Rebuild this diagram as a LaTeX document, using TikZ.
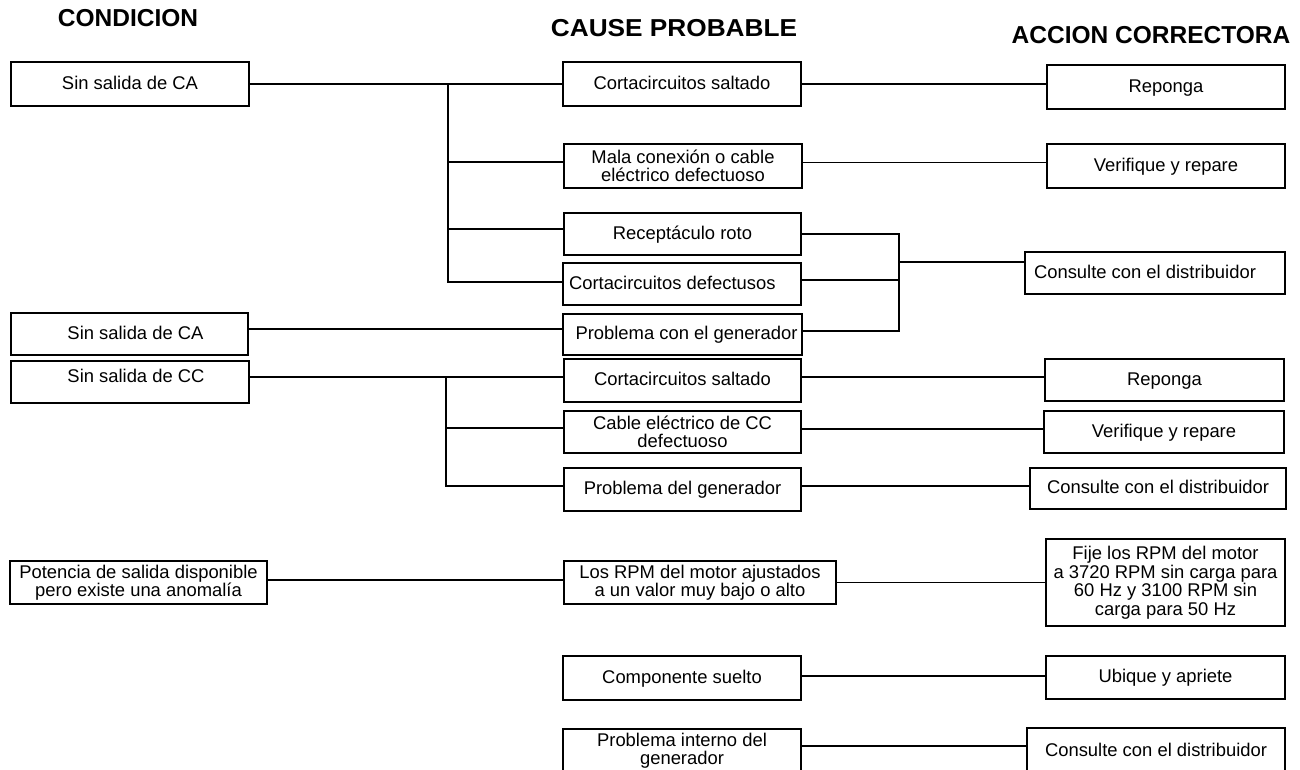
\documentclass[tikz,border=0pt]{standalone}
\usepackage{fontspec}
\setmainfont{Liberation Sans}
\begin{document}
\begin{tikzpicture}[x=1pt,y=-1pt,
  every node/.style={font=\fontsize{18.4}{18.5}\selectfont},
  bx/.style 2 args={draw, line width=1.2pt, inner sep=0pt, align=center,
    minimum width=#1, minimum height=#2},
  single/.style={text height=13.2pt, text depth=3pt},
  head/.style={font=\fontsize{24.5}{26}\selectfont\bfseries, inner sep=0pt},
  wire/.style={line width=1.2pt}]
\useasboundingbox (0,0) rectangle (1300,769);

% column headings
\node[head] (h1) at (128,18) {CONDICION};
\node[head] (h2) at (674,28) {\scalebox{1.07}[1]{CAUSE PROBABLE}};
\node[head] (h3) at (1151,35) {ACCION CORRECTORA};

% conditions
\node[bx={238pt}{44pt}, single] (C1) at (130,84) {Sin salida de CA};
\node[bx={237pt}{42pt}, single] (C2) at (129.5,334) {\hspace*{12pt}Sin salida de CA};
\node[bx={238pt}{42pt}, single] (C3) at (130,382) {\hspace*{12pt}\raisebox{5pt}{Sin salida de CC}};
\node[bx={257pt}{43pt}] (C4) at (138.5,582.5) {Potencia de salida disponible\\pero existe una anomalía};

% probable causes
\node[bx={238pt}{44pt}, single] (K1) at (682,84) {Cortacircuitos saltado};
\node[bx={238pt}{44pt}] (K2) at (683,166) {Mala conexión o cable\\eléctrico defectuoso};
\node[bx={237pt}{42pt}, single] (K3) at (682.5,234) {Receptáculo roto};
\node[bx={238pt}{42pt}, single] (K4) at (682,284) {\makebox[238pt][l]{\hspace*{6pt}Cortacircuitos defectusos}};
\node[bx={239pt}{41pt}, single] (K5) at (682.5,334.5) {\hspace*{8pt}Problema con el generador};
\node[bx={237pt}{43pt}, single] (K6) at (682.5,380.5) {Cortacircuitos saltado};
\node[bx={237pt}{42pt}] (K7) at (682.5,432) {Cable eléctrico de CC\\defectuoso};
\node[bx={237pt}{43pt}, single] (K8) at (682.5,489.5) {Problema del generador};
\node[bx={272pt}{43pt}] (K9) at (700,582.5) {Los RPM del motor ajustados\\a un valor muy bajo o alto};
\node[bx={238pt}{44pt}, single] (K10) at (682,678) {Componente suelto};
\node[bx={238pt}{43pt}] (K11) at (682,750.5) {Problema interno del\\generador};

% corrective actions
\node[bx={238pt}{44pt}, single] (A1) at (1166,87) {Reponga};
\node[bx={238pt}{44pt}, single] (A2) at (1166,166) {Verifique y repare};
\node[bx={260pt}{42pt}, single] (A3) at (1155,273) {\makebox[260pt][l]{\hspace*{9pt}Consulte con el distribuidor}};
\node[bx={239pt}{42pt}, single] (A4) at (1164.5,380) {Reponga};
\node[bx={240pt}{42pt}, single] (A5) at (1164,432) {Verifique y repare};
\node[bx={256pt}{41pt}, single] (A6) at (1158,488.5) {Consulte con el distribuidor};
\node[bx={239pt}{87pt}] (A7) at (1165.5,582.5) {Fije los RPM del motor\\a 3720 RPM sin carga para\\60 Hz y 3100 RPM sin\\carga para 50 Hz};
\node[bx={239pt}{43pt}, single] (A8) at (1165.5,677.5) {Ubique y apriete};
\node[bx={258pt}{43pt}] (A9) at (1156,749.5) {Consulte con el distribuidor};

% attachment points on box edges
\coordinate (K2w) at ([yshift=4pt]K2.west);
\coordinate (K3w) at ([yshift=5pt]K3.west);
\coordinate (K4w) at ([yshift=2pt]K4.west);
\coordinate (K7w) at ([yshift=4pt]K7.west);
\coordinate (K8w) at ([yshift=3.5pt]K8.west);

% first AC group: condition to causes
\draw[wire] (C1.east) -- (K1.west);
\coordinate (b1) at (448,84);
\draw[wire] (b1) |- (K4w);
\draw[wire] (b1 |- K2w) -- (K2w);
\draw[wire] (b1 |- K3w) -- (K3w);

% causes to actions
\draw[wire] (K1.east) -- (K1.east -| A1.west);
\draw[wire] ([yshift=3.5pt]K2.east) -- ([yshift=3.5pt]K2.east -| A2.west);

% three causes merged into one action
\coordinate (mtop) at (899,234);
\coordinate (mbot) at (899,331);
\draw[wire] (K3.east) -- (mtop) -- (mbot) -- ([yshift=3.5pt]K5.east);
\draw[wire] ([yshift=4pt]K4.east) -- ([yshift=4pt]K4.east -| mtop);
\coordinate (a3in) at ([yshift=11pt]A3.west);
\draw[wire] (a3in -| mtop) -- (a3in);

% second AC condition
\draw[wire] ([yshift=5pt]C2.east) -- ([yshift=5pt]C2.east -| K5.west);

% DC group
\draw[wire] ([yshift=5pt]C3.east) -- ([yshift=5pt]C3.east -| K6.west);
\coordinate (b2) at (446,377);
\draw[wire] (b2) |- (K8w);
\draw[wire] (b2 |- K7w) -- (K7w);
\draw[wire] ([yshift=3.5pt]K6.east) -- ([yshift=3.5pt]K6.east -| A4.west);
\draw[wire] ([yshift=3pt]K7.east) -- ([yshift=3pt]K7.east -| A5.west);
\draw[wire] ([yshift=3.5pt]K8.east) -- ([yshift=3.5pt]K8.east -| A6.west);

% output anomaly group
\draw[wire] ([yshift=2.5pt]C4.east) -- ([yshift=2.5pt]C4.east -| K9.west);
\draw[wire] (K9.east) -- (K9.east -| A7.west);
\draw[wire] ([yshift=2pt]K10.east) -- ([yshift=2pt]K10.east -| A8.west);
\draw[wire] ([yshift=4.5pt]K11.east) -- ([yshift=4.5pt]K11.east -| A9.west);
\end{tikzpicture}
\end{document}
